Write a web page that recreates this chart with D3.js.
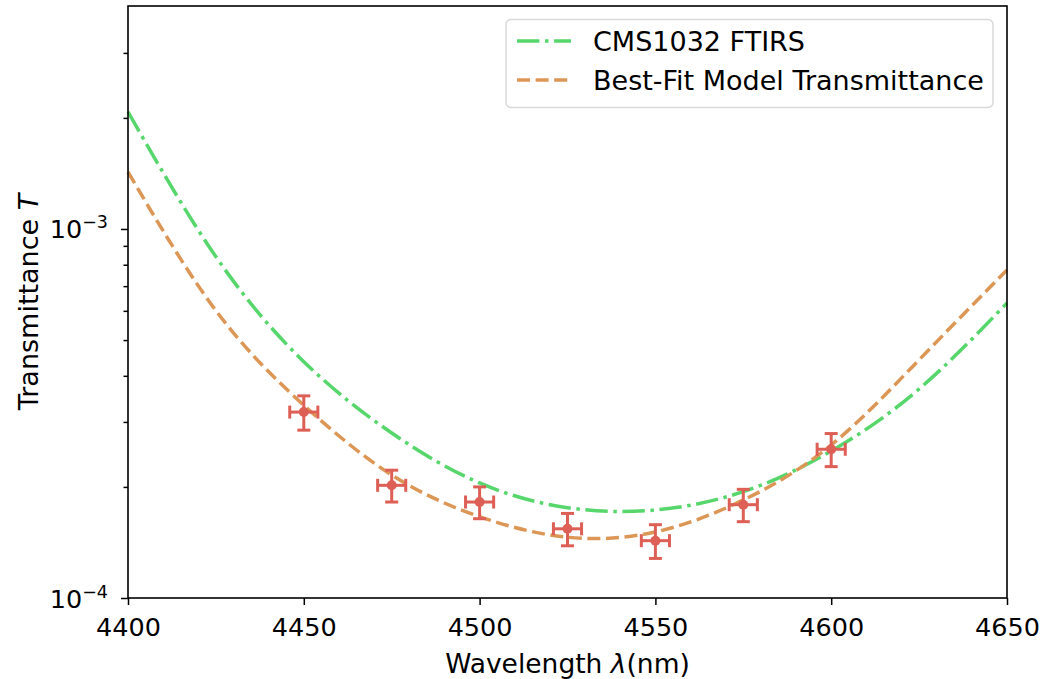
<!DOCTYPE html>
<html>
<head>
<meta charset="utf-8">
<script src="https://cdn.jsdelivr.net/npm/d3@7"></script>
<style>
  html, body { margin: 0; padding: 0; background: #fff; }
  svg text { font-family: "DejaVu Sans", sans-serif; }
</style>
</head>
<body>
<div id="chart"></div>
<script>
// wavelengths (nm) where the curves were read
const curveX = [4400, 4425, 4450, 4475, 4500, 4525, 4550, 4575, 4600, 4625, 4650];
const ftirs = [2.076e-3, 8.41e-4, 4.37e-4, 2.80e-4, 2.05e-4, 1.757e-4, 1.732e-4, 1.942e-4, 2.502e-4, 3.685e-4, 6.30e-4];
const model = [1.427e-3, 6.01e-4, 3.33e-4, 2.154e-4, 1.661e-4, 1.461e-4, 1.51e-4, 1.843e-4, 2.598e-4, 4.42e-4, 7.74e-4];

// measured points
const measX = [4450, 4475, 4500, 4525, 4550, 4575, 4600];
const measT = [3.19e-4, 2.02e-4, 1.82e-4, 1.54e-4, 1.43e-4, 1.79e-4, 2.53e-4];
const measTErr = [0.34e-4, 0.20e-4, 0.18e-4, 0.155e-4, 0.15e-4, 0.18e-4, 0.26e-4];
const measXErr = 4;

const xTicks = [4400, 4450, 4500, 4550, 4600, 4650];
const yMajor = [1e-4, 1e-3];
const yMinor = [2e-4, 3e-4, 4e-4, 5e-4, 6e-4, 7e-4, 8e-4, 9e-4, 2e-3, 3e-3];
const seriesNames = ['CMS1032 FTIRS', 'Best-Fit Model Transmittance'];

const width = 1046, height = 679;
const margin = { top: 6, right: 39, bottom: 81, left: 128 };
const green = '#57d66c', orange = '#dc9656', red = '#dd5f56';

const svg = d3.select('#chart').append('svg')
  .attr('width', width)
  .attr('height', height);

const x = d3.scaleLinear([4400, 4650], [margin.left, width - margin.right]);
const y = d3.scaleLog([1e-4, 4.02e-3], [height - margin.bottom, margin.top]);

// axes
const xAxis = svg.append('g')
  .attr('transform', `translate(0, ${height - margin.bottom})`)
  .call(d3.axisBottom(x).tickValues(xTicks).tickSize(7).tickFormat(d3.format('d')));
xAxis.selectAll('text')
  .attr('y', 38)
  .attr('dy', 0)
  .attr('font-size', 25.5)
  .attr('fill', '#000')
  .attr('font-family', 'DejaVu Sans');

const yMinorAxis = svg.append('g')
  .attr('transform', `translate(${margin.left}, 0)`)
  .call(d3.axisLeft(y).tickValues(yMinor).tickSize(4.5).tickFormat(''));

const yAxis = svg.append('g')
  .attr('transform', `translate(${margin.left}, 0)`)
  .call(d3.axisLeft(y).tickValues(yMajor).tickSize(7).tickFormat(''));

yAxis.selectAll('.tick').each(function (d) {
  const t = d3.select(this).append('text')
    .attr('x', -20)
    .attr('y', 9)
    .attr('text-anchor', 'end')
    .attr('fill', '#000')
    .attr('font-size', 25.5)
    .attr('font-family', 'DejaVu Sans');
  t.append('tspan').text('10');
  t.append('tspan').attr('dy', -10).attr('font-size', 17.5).text('\u2212' + (-Math.log10(d)));
});

[xAxis, yAxis, yMinorAxis].forEach(g => {
  g.select('.domain').remove();
  g.selectAll('line').attr('stroke', '#000').attr('stroke-width', 1.5);
});

// curves
const line = d3.line()
  .x((d, i) => x(curveX[i]))
  .y(d => y(d))
  .curve(d3.curveNatural);

const plot = svg.append('g');

plot.append('path')
  .attr('d', line(ftirs))
  .attr('fill', 'none')
  .attr('stroke', green)
  .attr('stroke-width', 3.5)
  .attr('stroke-dasharray', '22.4 5.6 3.5 5.6');

plot.append('path')
  .attr('d', line(model))
  .attr('fill', 'none')
  .attr('stroke', orange)
  .attr('stroke-width', 3.5)
  .attr('stroke-dasharray', '13 5.6');

// error bars
const cap = 6.5;
const pts = plot.selectAll('.pt')
  .data(measX.map((d, i) => ({ x: d, t: measT[i], e: measTErr[i] })))
  .enter().append('g')
  .attr('class', 'pt')
  .attr('stroke', red)
  .attr('fill', red)
  .attr('stroke-width', 3);

pts.append('line')
  .attr('x1', d => x(d.x)).attr('x2', d => x(d.x))
  .attr('y1', d => y(d.t - d.e)).attr('y2', d => y(d.t + d.e));
pts.append('line')
  .attr('x1', d => x(d.x - measXErr)).attr('x2', d => x(d.x + measXErr))
  .attr('y1', d => y(d.t)).attr('y2', d => y(d.t));
[-1, 1].forEach(s => {
  pts.append('line')
    .attr('x1', d => x(d.x) - cap).attr('x2', d => x(d.x) + cap)
    .attr('y1', d => y(d.t + s * d.e)).attr('y2', d => y(d.t + s * d.e));
  pts.append('line')
    .attr('x1', d => x(d.x + s * measXErr)).attr('x2', d => x(d.x + s * measXErr))
    .attr('y1', d => y(d.t) - cap).attr('y2', d => y(d.t) + cap);
});
pts.append('circle')
  .attr('cx', d => x(d.x))
  .attr('cy', d => y(d.t))
  .attr('r', 5)
  .attr('stroke', 'none');

// frame
svg.append('rect')
  .attr('x', margin.left)
  .attr('y', margin.top)
  .attr('width', width - margin.left - margin.right)
  .attr('height', height - margin.top - margin.bottom)
  .attr('fill', 'none')
  .attr('stroke', '#000')
  .attr('stroke-width', 1.6);

// axis labels
const xl = svg.append('text')
  .attr('x', (margin.left + width - margin.right) / 2)
  .attr('y', 673)
  .attr('text-anchor', 'middle')
  .attr('font-size', 26.5)
  .attr('fill', '#000');
xl.append('tspan').text('Wavelength ');
xl.append('tspan').attr('font-style', 'italic').text('\u03bb');
xl.append('tspan').text('(nm)');

const yl = svg.append('text')
  .attr('transform', `translate(38, ${(margin.top + height - margin.bottom) / 2}) rotate(-90)`)
  .attr('text-anchor', 'middle')
  .attr('font-size', 27)
  .attr('fill', '#000');
yl.append('tspan').text('Transmittance ');
yl.append('tspan').attr('font-style', 'italic').text('T');

// legend
const legend = svg.append('g');
legend.append('rect')
  .attr('x', 506).attr('y', 19.5)
  .attr('width', 487).attr('height', 88)
  .attr('rx', 5)
  .attr('fill', '#fff').attr('fill-opacity', 0.8)
  .attr('stroke', '#d9d9d9').attr('stroke-width', 1.5);

const legendRows = [
  { name: seriesNames[0], color: green, dash: '22.4 5.6 3.5 5.6', y: 41 },
  { name: seriesNames[1], color: orange, dash: '13 5.6', y: 80 }
];
legendRows.forEach(r => {
  legend.append('line')
    .attr('x1', 517).attr('x2', 571)
    .attr('y1', r.y).attr('y2', r.y)
    .attr('stroke', r.color).attr('stroke-width', 3.5)
    .attr('stroke-dasharray', r.dash);
  legend.append('text')
    .attr('x', 593).attr('y', r.y + 9.5)
    .attr('font-size', 27)
    .attr('fill', '#000')
    .text(r.name);
});
</script>
</body>
</html>
